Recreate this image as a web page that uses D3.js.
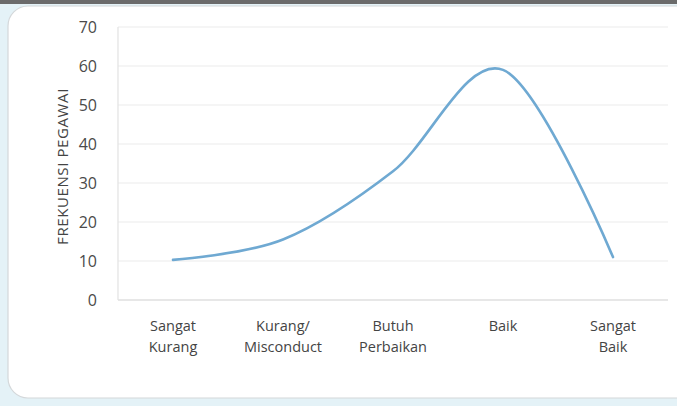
<!DOCTYPE html>
<html>
<head>
<meta charset="utf-8">
<script src="https://cdn.jsdelivr.net/npm/d3@7"></script>
<style>
  body { margin: 0; background: #e4f2f7; }
  svg { display: block; font-family: "Open Sans", "Noto Sans", sans-serif; }
</style>
</head>
<body>
<svg id="chart" width="677" height="406"></svg>
<script>
const categories = [["Sangat", "Kurang"], ["Kurang/", "Misconduct"], ["Butuh", "Perbaikan"], ["Baik"], ["Sangat", "Baik"]];
const values = [10.3, 15.5, 33, 59, 11];
const yTicks = [0, 10, 20, 30, 40, 50, 60, 70];

const svg = d3.select("#chart");

// top strip + card
svg.append("rect").attr("x", 0).attr("y", 0).attr("width", 677).attr("height", 4).attr("fill", "#6b6b6b");
svg.append("rect")
   .attr("x", 8).attr("y", 6)
   .attr("width", 700).attr("height", 392)
   .attr("rx", 20)
   .attr("fill", "#ffffff")
   .attr("stroke", "#d4d8da")
   .attr("stroke-width", 1.2);

const margin = {left: 118, right: 668, top: 27, bottom: 300};

const x = d3.scaleBand()
    .domain(d3.range(categories.length))
    .range([margin.left, margin.right]);

const y = d3.scaleLinear()
    .domain([0, 70])
    .range([margin.bottom, margin.top]);

// gridlines
svg.append("g")
   .selectAll("line")
   .data(yTicks.slice(1))
   .enter()
   .append("line")
   .attr("x1", margin.left)
   .attr("x2", margin.right)
   .attr("y1", d => y(d))
   .attr("y2", d => y(d))
   .attr("stroke", "#ebebeb")
   .attr("stroke-width", 1.2);

// axis lines
svg.append("line")
   .attr("x1", margin.left).attr("x2", margin.right)
   .attr("y1", y(0)).attr("y2", y(0))
   .attr("stroke", "#d0d0d0").attr("stroke-width", 1.2);
svg.append("line")
   .attr("x1", margin.left).attr("x2", margin.left)
   .attr("y1", y(0)).attr("y2", y(70))
   .attr("stroke", "#e2e2e2").attr("stroke-width", 1.2);

// y tick labels
const yAxis = d3.axisLeft(y).tickValues(yTicks).tickSize(0).tickPadding(0);
const yg = svg.append("g")
   .attr("transform", `translate(${margin.left - 21},0)`)
   .call(yAxis);
yg.select(".domain").remove();
yg.selectAll("text")
  .attr("fill", "#4a4a4a")
  .style("font-size", "16px")
  .style("font-family", "\"Open Sans\", sans-serif")
  .attr("dy", "0.35em");

// y axis title
svg.append("text")
   .attr("transform", `translate(68,${(margin.top + margin.bottom) / 2 + 3}) rotate(-90)`)
   .attr("text-anchor", "middle")
   .attr("fill", "#444")
   .style("font-size", "15px")
   .style("letter-spacing", "0.6px")
   .text("FREKUENSI PEGAWAI");

// x labels
const xl = svg.append("g")
   .selectAll("text")
   .data(categories)
   .enter()
   .append("text")
   .attr("x", (d, i) => x(i) + x.bandwidth() / 2)
   .attr("y", 331)
   .attr("text-anchor", "middle")
   .attr("fill", "#444")
   .style("font-size", "14.5px");
xl.selectAll("tspan")
  .data(d => d)
  .enter()
  .append("tspan")
  .attr("x", function() { return d3.select(this.parentNode).attr("x"); })
  .attr("dy", (d, i) => i === 0 ? 0 : 21)
  .text(d => d);

// line
const line = d3.line()
    .x((d, i) => x(i) + x.bandwidth() / 2)
    .y(d => y(d))
    .curve(d3.curveCardinal.tension(0));

svg.append("path")
   .datum(values)
   .attr("d", line)
   .attr("fill", "none")
   .attr("stroke", "#6fa9d2")
   .attr("stroke-width", 2.6)
   .attr("stroke-linecap", "round");
</script>
</body>
</html>
